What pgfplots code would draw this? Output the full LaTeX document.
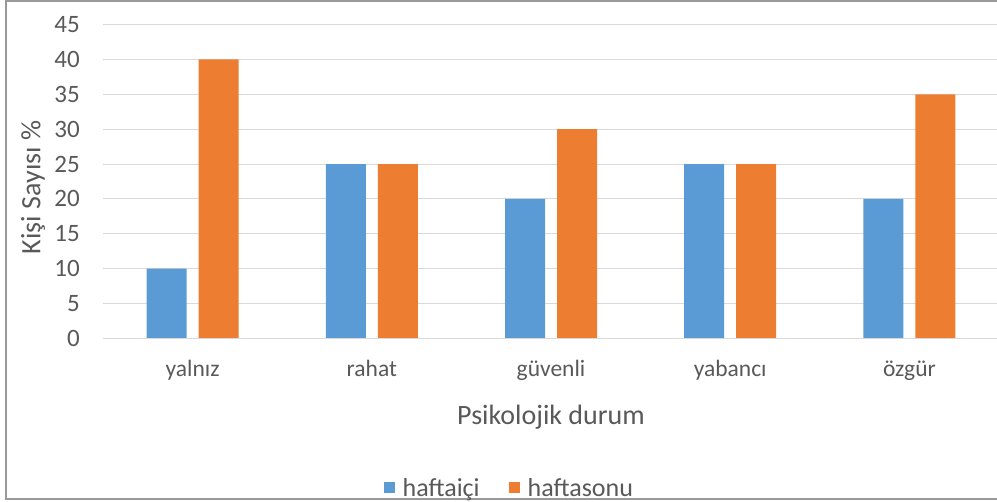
\documentclass[border=0pt]{standalone}
\usepackage{pgfplots}
\pgfplotsset{compat=1.18}
\usepackage{fontspec}
\setmainfont{Carlito}
\definecolor{cblue}{HTML}{5B9BD5}
\definecolor{corange}{HTML}{ED7D31}
\definecolor{tgray}{HTML}{595959}
\definecolor{ggray}{HTML}{D9D9D9}
\begin{document}
\begin{tikzpicture}[x=1pt,y=1pt]
\clip (0,0) rectangle (997,502);
\draw[color=black!40, line width=1.2pt] (6,3) rectangle (1003,501);
\begin{axis}[
  at={(103pt,163.5pt)}, anchor=south west,
  scale only axis, width=896pt, height=314pt,
  xmin=-0.5, xmax=4.5, ymin=0, ymax=45,
  ybar=12pt, bar width=40pt,
  xtick={0,1,2,3,4},
  xticklabels={yalnız,rahat,güvenli,yabancı,özgür},
  ytick={0,5,...,45},
  ymajorgrids, grid style={ggray, line width=1pt},
  axis line style={draw=none},
  axis x line*=bottom,
  major tick length=0pt,
  /pgf/number format/assume math mode=true,
  xticklabel style={font=\fontsize{23.5}{26}\selectfont, text=tgray, anchor=base, yshift=-38.5pt},
  yticklabel style={font=\fontsize{25}{28}\selectfont, text=tgray, anchor=east, inner sep=0pt, xshift=-23pt},
  xlabel={Psikolojik durum},
  ylabel={Kişi Sayısı \%},
  label style={font=\fontsize{28}{31}\selectfont, text=tgray},
  xlabel style={at={(axis description cs:0.5,-0.25)}, anchor=center},
  ylabel style={at={(axis description cs:-0.078,0.481)}, anchor=center, rotate=0},
  legend style={at={(0.4535,-0.476)}, anchor=center, draw=none, fill=none,
    legend columns=2, font=\fontsize{26}{28}\selectfont, text=tgray,
    /tikz/every odd column/.append style={column sep=6pt},
    /tikz/every even column/.append style={column sep=27pt}},
  legend image code/.code={\fill[#1] (0pt,-5.5pt) rectangle (11pt,5.5pt);},
]
\addplot[fill=cblue, draw=none] coordinates {(0,10) (1,25) (2,20) (3,25) (4,20)};
\addplot[fill=corange, draw=none] coordinates {(0,40) (1,25) (2,30) (3,25) (4,35)};
\draw[ggray, line width=1pt] (axis cs:-0.5,0) -- (axis cs:4.5,0);
\legend{haftaiçi,haftasonu}
\end{axis}
\end{tikzpicture}
\end{document}
